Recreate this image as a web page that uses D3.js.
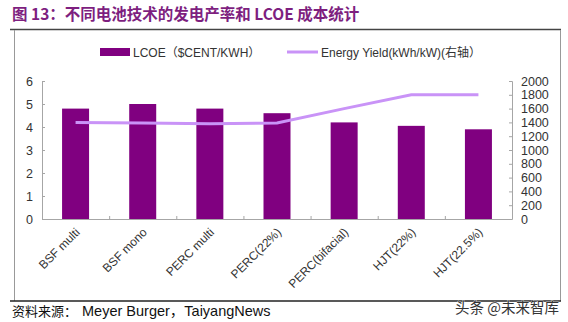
<!DOCTYPE html>
<html>
<head>
<meta charset="utf-8">
<script src="https://cdn.jsdelivr.net/npm/d3@7"></script>
<style>
  body { margin: 0; background: #fff; }
  text { font-family: "Liberation Sans", Arial, "Noto Sans CJK SC", sans-serif; }
</style>
</head>
<body>
<div id="chart"></div>
<script>
// data
const categories = ["BSF multi", "BSF mono", "PERC multi", "PERC(22%)", "PERC(bifacial)", "HJT(22%)", "HJT(22.5%)"]
const lcoe = [4.8, 5.0, 4.8, 4.6, 4.2, 4.05, 3.9]
const energyYield = [1400, 1390, 1380, 1390, 1600, 1800, 1800]
const leftTicks = [0, 1, 2, 3, 4, 5, 6]
const rightTicks = [0, 200, 400, 600, 800, 1000, 1200, 1400, 1600, 1800, 2000]

const W = 568, H = 322
const margin = { top: 81, right: 56, bottom: 103, left: 42 }
const width = W - margin.left - margin.right
const height = H - margin.top - margin.bottom

const barColor = "#800080"
const lineColor = "#C993F7"
const titleColor = "#7E1F7F"
const axisColor = "#a6a6a6"
const textColor = "#333"

const svg = d3.select("#chart").append("svg")
   .attr("width", W)
   .attr("height", H)

// title
svg.append("text")
   .attr("x", 12).attr("y", 20)
   .attr("fill", titleColor)
   .attr("font-size", 15.5)
   .attr("font-weight", "bold")
   .style("font-family", "'Noto Sans CJK SC', 'Liberation Sans', sans-serif")
   .text("图 13：不同电池技术的发电产率和 LCOE 成本统计")

// frame
svg.append("line").attr("x1", 10).attr("x2", 561).attr("y1", 29.5).attr("y2", 29.5)
   .attr("stroke", "#444").attr("stroke-width", 1.5)
svg.append("line").attr("x1", 14.5).attr("x2", 14.5).attr("y1", 30).attr("y2", 301)
   .attr("stroke", "#999").attr("stroke-width", 1)
svg.append("line").attr("x1", 560.5).attr("x2", 560.5).attr("y1", 30).attr("y2", 301)
   .attr("stroke", "#999").attr("stroke-width", 1)
svg.append("line").attr("x1", 10).attr("x2", 561).attr("y1", 301).attr("y2", 301)
   .attr("stroke", "#222").attr("stroke-width", 1.5)

const g = svg.append("g")
   .attr("transform", "translate(" + margin.left + "," + margin.top + ")")

const xc = d3.scalePoint().domain(categories).range([0, width]).padding(0.5)
const yL = d3.scaleLinear().domain([0, 6]).range([height, 0])
const yR = d3.scaleLinear().domain([0, 2000]).range([height, 0])

// bars
g.selectAll("rect.bar").data(categories)
   .join("rect")
   .attr("class", "bar")
   .attr("x", (d) => xc(d) - 13.5)
   .attr("width", 27)
   .attr("y", (d, i) => yL(lcoe[i]))
   .attr("height", (d, i) => height - yL(lcoe[i]))
   .attr("fill", barColor)

// left axis
const leftAxis = g.append("g")
   .call(d3.axisLeft(yL).tickValues(leftTicks).tickSize(-3).tickPadding(9).tickFormat(d3.format("d")))
leftAxis.select(".domain").attr("stroke", axisColor)
leftAxis.selectAll(".tick line").attr("stroke", axisColor)
leftAxis.selectAll(".tick text").attr("fill", textColor).attr("font-size", 12.5)
   .style("font-family", "'Liberation Sans', Arial, sans-serif")

// right axis
const rightAxis = g.append("g")
   .attr("transform", "translate(" + width + ",0)")
   .call(d3.axisRight(yR).tickValues(rightTicks).tickSize(-3).tickPadding(9).tickFormat(d3.format("d")))
rightAxis.select(".domain").attr("stroke", axisColor)
rightAxis.selectAll(".tick line").attr("stroke", axisColor)
rightAxis.selectAll(".tick text").attr("fill", textColor).attr("font-size", 12.5)
   .style("font-family", "'Liberation Sans', Arial, sans-serif")

// bottom axis with boundary ticks inside
const step = width / categories.length
g.append("line").attr("x1", 0).attr("x2", width).attr("y1", height + 0.5).attr("y2", height + 0.5)
   .attr("stroke", axisColor)
g.selectAll("line.xtick").data(d3.range(1, categories.length))
   .join("line")
   .attr("class", "xtick")
   .attr("x1", (d) => d * step + 0.5).attr("x2", (d) => d * step + 0.5)
   .attr("y1", height).attr("y2", height - 3)
   .attr("stroke", axisColor)

g.selectAll("text.xlabel").data(categories)
   .join("text")
   .attr("class", "xlabel")
   .attr("text-anchor", "end")
   .attr("font-size", 12)
   .attr("fill", textColor)
   .attr("transform", (d) => "translate(" + (xc(d) + 5) + "," + (height + 14) + ") rotate(-45)")
   .style("font-family", "'Liberation Sans', Arial, sans-serif")
   .text((d) => d)

// line series
const line = d3.line()
   .x((d, i) => xc(categories[i]))
   .y((d) => yR(d))
g.append("path")
   .datum(energyYield)
   .attr("d", line)
   .attr("fill", "none")
   .attr("stroke", lineColor)
   .attr("stroke-width", 3)

// legend
const legend = svg.append("g").attr("transform", "translate(0,52)")
legend.append("rect").attr("x", 100).attr("y", -4).attr("width", 30).attr("height", 8).attr("fill", barColor)
legend.append("text").attr("x", 133).attr("y", 4.5).attr("font-size", 12).attr("fill", textColor)
   .text("LCOE（$CENT/KWH）")
legend.append("line").attr("x1", 287).attr("x2", 318).attr("y1", 0).attr("y2", 0)
   .attr("stroke", lineColor).attr("stroke-width", 3)
legend.append("text").attr("x", 321).attr("y", 4.5).attr("font-size", 12).attr("fill", textColor)
   .text("Energy Yield(kWh/kW)(右轴）")

// source
svg.append("text").attr("x", 12).attr("y", 316).attr("font-size", 13).attr("fill", "#111")
   .style("font-family", "'Noto Sans CJK SC', 'Liberation Sans', sans-serif")
   .text("资料来源：")
svg.append("text").attr("x", 82).attr("y", 316).attr("font-size", 14.5).attr("fill", "#111")
   .text("Meyer Burger，TaiyangNews")

// watermark
svg.append("text").attr("x", 455).attr("y", 313).attr("font-size", 14.5).attr("fill", "#333")
   .attr("stroke", "#fff").attr("stroke-width", 0.6).attr("paint-order", "stroke")
   .style("font-family", "'Noto Sans CJK SC', sans-serif")
   .text("头条 @未来智库")
</script>
</body>
</html>
